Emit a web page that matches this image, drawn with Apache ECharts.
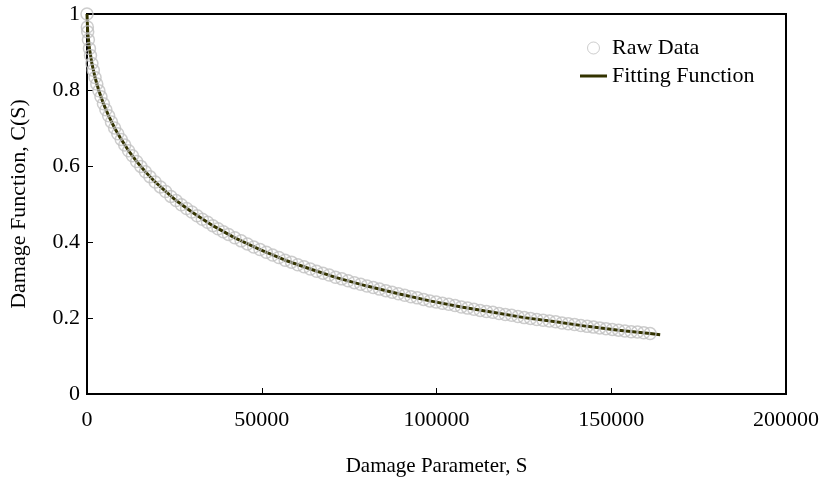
<!DOCTYPE html>
<html>
<head>
<meta charset="utf-8">
<script src="https://cdn.jsdelivr.net/npm/echarts@6/dist/echarts.min.js"></script>
<style>
  html, body { margin: 0; padding: 0; background: #fff; }
  #chart { width: 825px; height: 485px; }
</style>
</head>
<body>
<div id="chart"></div>
<script>
// Measured damage function values, C(S), against damage parameter S
const rawS = [0, 100, 200, 400, 700, 1000, 1400, 1800, 2300, 2800, 3400, 4000, 4700, 5400, 6200,
  7000, 7900, 8800, 9800, 10800, 11900, 13000, 14200, 15400, 16700, 18000, 19500, 21000, 22500,
  24000, 25500, 27000, 28500, 30000, 31500, 33000, 34500, 36000, 37500, 39000, 40500, 42300,
  44100, 45900, 47700, 49500, 51300, 53100, 54900, 56700, 58500, 60300, 62100, 63900, 65700,
  67500, 69300, 71100, 72900, 74700, 76500, 78300, 80100, 81900, 83700, 85500, 87300, 89100,
  90900, 92700, 94500, 96300, 98100, 99900, 101700, 103500, 105300, 107100, 108900, 110700,
  112500, 114300, 116100, 117900, 119700, 121500, 123300, 125100, 126900, 128700, 130500,
  132300, 134100, 135900, 137700, 139500, 141300, 143100, 144900, 146700, 148500, 150300,
  152100, 153900, 155700, 157500, 159300, 161100];
const rawC = [1.000, 0.966, 0.953, 0.932, 0.909, 0.891, 0.870, 0.852, 0.833, 0.816, 0.798, 0.782,
  0.764, 0.748, 0.732, 0.716, 0.700, 0.685, 0.670, 0.655, 0.640, 0.627, 0.612, 0.599, 0.585,
  0.572, 0.558, 0.545, 0.533, 0.520, 0.509, 0.498, 0.488, 0.479, 0.469, 0.460, 0.452, 0.443,
  0.435, 0.427, 0.420, 0.411, 0.403, 0.395, 0.387, 0.380, 0.373, 0.366, 0.359, 0.352, 0.347,
  0.340, 0.335, 0.329, 0.323, 0.318, 0.313, 0.307, 0.303, 0.298, 0.293, 0.289, 0.284, 0.280,
  0.276, 0.272, 0.268, 0.264, 0.260, 0.256, 0.253, 0.249, 0.245, 0.242, 0.239, 0.236, 0.233,
  0.229, 0.226, 0.223, 0.220, 0.217, 0.215, 0.212, 0.209, 0.207, 0.204, 0.201, 0.199, 0.196,
  0.194, 0.192, 0.190, 0.187, 0.185, 0.183, 0.180, 0.178, 0.176, 0.174, 0.172, 0.170, 0.168,
  0.166, 0.164, 0.163, 0.161, 0.159];

// Fitted curve through the measurements
const fitS = [0, 200, 700, 1400, 2300, 3400, 4700, 6200, 7900, 9800, 11900, 14200, 16700, 19500,
  22500, 25500, 30000, 36000, 42300, 49500, 56700, 63900, 71100, 80100, 89100, 98100, 107100,
  116100, 125100, 134100, 143100, 152100, 161100, 164000];
const fitC = [1.000, 0.953, 0.909, 0.870, 0.833, 0.798, 0.764, 0.732, 0.700, 0.670, 0.640, 0.612,
  0.585, 0.558, 0.533, 0.509, 0.479, 0.443, 0.411, 0.380, 0.352, 0.329, 0.307, 0.284, 0.264,
  0.245, 0.229, 0.215, 0.201, 0.190, 0.178, 0.168, 0.159, 0.156];

const xTicks = { min: 0, max: 200000, interval: 50000 };
const yTicks = { min: 0, max: 1, interval: 0.2 };

const FONT = 'Liberation Serif';
const INK = '#000';
const RAW_STROKE = '#c0c0c0';
const FIT_COLOR = '#333300';
const pair = (xs, ys) => xs.map((x, i) => [x, ys[i]]);

const legendText = { fontFamily: FONT, fontSize: 22, color: INK };

const chart = echarts.init(document.getElementById('chart'), null, { renderer: 'canvas' });
chart.setOption({
  animation: false,
  backgroundColor: '#fff',
  textStyle: { fontFamily: FONT, color: INK },
  grid: {
    left: 86, right: 39, top: 14, bottom: 91,
    show: true, borderColor: INK, borderWidth: 2, backgroundColor: 'transparent'
  },
  legend: [
    {
      left: 582, top: 32,
      itemWidth: 27, itemHeight: 12,
      textStyle: legendText,
      data: [{ name: 'Raw Data', icon: 'circle',
        itemStyle: { color: 'rgba(255,255,255,0)', borderColor: RAW_STROKE, borderWidth: 1 } }]
    },
    {
      left: 575, top: 60,
      itemWidth: 27, itemHeight: 3,
      textStyle: legendText,
      data: [{ name: 'Fitting Function', icon: 'rect', itemStyle: { color: FIT_COLOR } }]
    }
  ],
  xAxis: {
    type: 'value',
    min: xTicks.min, max: xTicks.max, interval: xTicks.interval,
    name: 'Damage Parameter, S',
    nameLocation: 'middle', nameGap: 62,
    nameTextStyle: { fontFamily: FONT, fontSize: 21, color: INK },
    axisLine: { lineStyle: { color: INK, width: 2 } },
    axisTick: { inside: true, length: 6, lineStyle: { color: INK, width: 1 } },
    axisLabel: { fontFamily: FONT, fontSize: 22, color: INK, margin: 15,
      formatter: v => String(v) },
    splitLine: { show: false }
  },
  yAxis: {
    type: 'value',
    min: yTicks.min, max: yTicks.max, interval: yTicks.interval,
    name: 'Damage Function, C(S)',
    nameLocation: 'middle', nameGap: 57,
    nameTextStyle: { fontFamily: FONT, fontSize: 22, color: INK },
    axisLine: { lineStyle: { color: INK, width: 2 } },
    axisTick: { inside: true, length: 6, lineStyle: { color: INK, width: 1 } },
    axisLabel: { fontFamily: FONT, fontSize: 22, color: INK, margin: 7,
      formatter: v => String(+v.toFixed(1)) },
    splitLine: { show: false }
  },
  series: [
    {
      name: 'Fitting Function',
      type: 'line',
      data: pair(fitS, fitC),
      showSymbol: false,
      symbol: 'none',
      smooth: false,
      z: 2,
      lineStyle: { color: FIT_COLOR, width: 3 },
      itemStyle: { color: FIT_COLOR }
    },
    {
      name: 'Raw Data',
      type: 'scatter',
      data: pair(rawS, rawC),
      symbol: 'circle',
      symbolSize: 12,
      z: 3,
      itemStyle: { color: 'rgba(255,255,255,0)', borderColor: RAW_STROKE, borderWidth: 1.5 }
    }
  ]
});
</script>
</body>
</html>
